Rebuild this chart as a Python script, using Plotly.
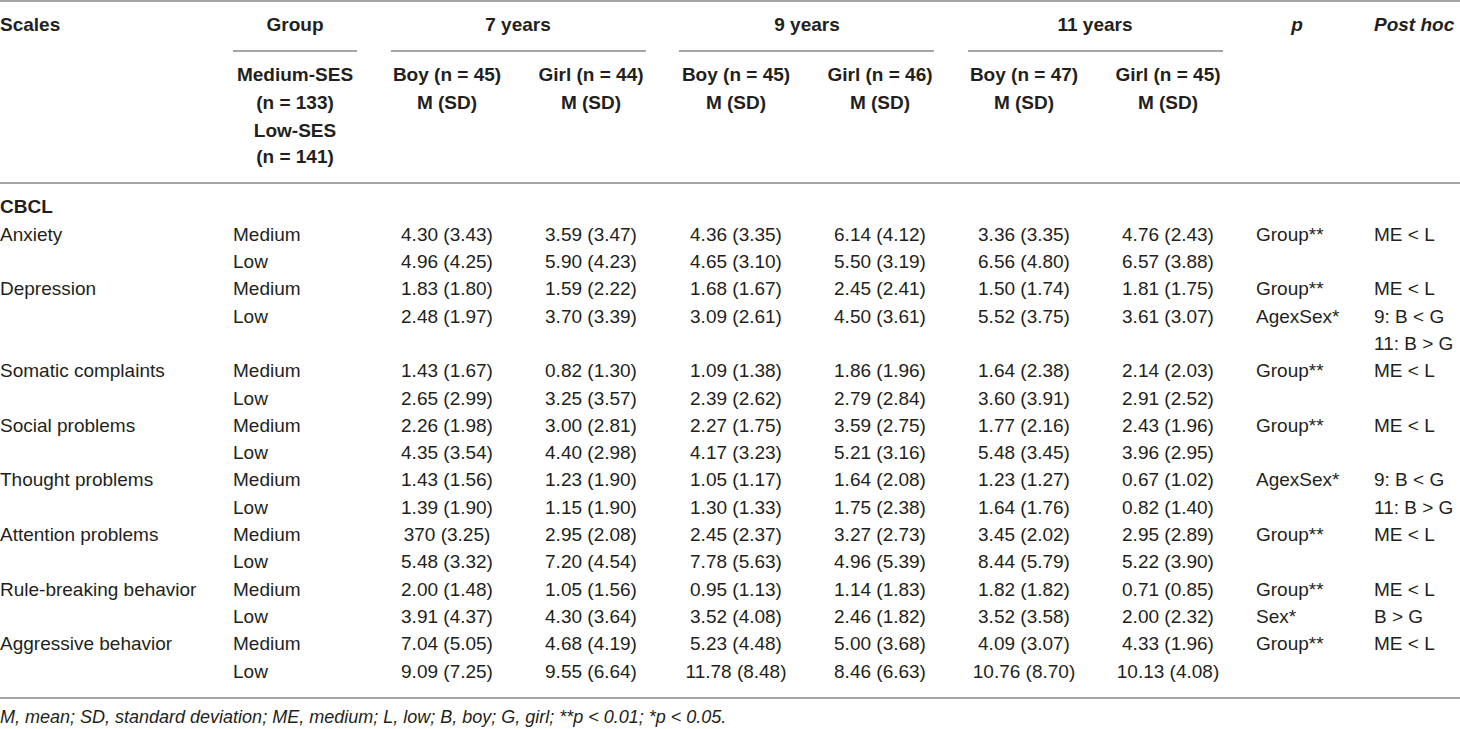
import plotly.graph_objects as go

# ---------------- data ----------------
scales = ["Anxiety", "", "Depression", "", "", "Somatic complaints", "", "Social problems", "",
          "Thought problems", "", "Attention problems", "", "Rule-breaking behavior", "",
          "Aggressive behavior", ""]
groups = ["Medium", "Low", "Medium", "Low", "", "Medium", "Low", "Medium", "Low",
          "Medium", "Low", "Medium", "Low", "Medium", "Low", "Medium", "Low"]
boy7 = ["4.30 (3.43)", "4.96 (4.25)", "1.83 (1.80)", "2.48 (1.97)", "", "1.43 (1.67)", "2.65 (2.99)",
        "2.26 (1.98)", "4.35 (3.54)", "1.43 (1.56)", "1.39 (1.90)", "370 (3.25)", "5.48 (3.32)",
        "2.00 (1.48)", "3.91 (4.37)", "7.04 (5.05)", "9.09 (7.25)"]
girl7 = ["3.59 (3.47)", "5.90 (4.23)", "1.59 (2.22)", "3.70 (3.39)", "", "0.82 (1.30)", "3.25 (3.57)",
         "3.00 (2.81)", "4.40 (2.98)", "1.23 (1.90)", "1.15 (1.90)", "2.95 (2.08)", "7.20 (4.54)",
         "1.05 (1.56)", "4.30 (3.64)", "4.68 (4.19)", "9.55 (6.64)"]
boy9 = ["4.36 (3.35)", "4.65 (3.10)", "1.68 (1.67)", "3.09 (2.61)", "", "1.09 (1.38)", "2.39 (2.62)",
        "2.27 (1.75)", "4.17 (3.23)", "1.05 (1.17)", "1.30 (1.33)", "2.45 (2.37)", "7.78 (5.63)",
        "0.95 (1.13)", "3.52 (4.08)", "5.23 (4.48)", "11.78 (8.48)"]
girl9 = ["6.14 (4.12)", "5.50 (3.19)", "2.45 (2.41)", "4.50 (3.61)", "", "1.86 (1.96)", "2.79 (2.84)",
         "3.59 (2.75)", "5.21 (3.16)", "1.64 (2.08)", "1.75 (2.38)", "3.27 (2.73)", "4.96 (5.39)",
         "1.14 (1.83)", "2.46 (1.82)", "5.00 (3.68)", "8.46 (6.63)"]
boy11 = ["3.36 (3.35)", "6.56 (4.80)", "1.50 (1.74)", "5.52 (3.75)", "", "1.64 (2.38)", "3.60 (3.91)",
         "1.77 (2.16)", "5.48 (3.45)", "1.23 (1.27)", "1.64 (1.76)", "3.45 (2.02)", "8.44 (5.79)",
         "1.82 (1.82)", "3.52 (3.58)", "4.09 (3.07)", "10.76 (8.70)"]
girl11 = ["4.76 (2.43)", "6.57 (3.88)", "1.81 (1.75)", "3.61 (3.07)", "", "2.14 (2.03)", "2.91 (2.52)",
          "2.43 (1.96)", "3.96 (2.95)", "0.67 (1.02)", "0.82 (1.40)", "2.95 (2.89)", "5.22 (3.90)",
          "0.71 (0.85)", "2.00 (2.32)", "4.33 (1.96)", "10.13 (4.08)"]
p_effects = ["Group**", "", "Group**", "AgexSex*", "", "Group**", "", "Group**", "",
             "AgexSex*", "", "Group**", "", "Group**", "Sex*", "Group**", ""]
posthoc = ["ME < L", "", "ME < L", "9: B < G", "11: B > G", "ME < L", "", "ME < L", "",
           "9: B < G", "11: B > G", "ME < L", "", "ME < L", "B > G", "ME < L", ""]

age_headers = ["7 years", "9 years", "11 years"]
sub_headers = ["Boy (n = 45)", "Girl (n = 44)", "Boy (n = 45)", "Girl (n = 46)", "Boy (n = 47)", "Girl (n = 45)"]
group_header = ["Medium-SES", "(n = 133)", "Low-SES", "(n = 141)"]
section = "CBCL"
footnote = "M, mean; SD, standard deviation; ME, medium; L, low; B, boy; G, girl; **p < 0.01; *p < 0.05."

# ---------------- layout constants ----------------
W, H = 1460, 729
FONT = "Liberation Sans, Arial, Helvetica, sans-serif"
TXT = "#231f20"
LINE = "#a6a6a6"
FS = 19

row_y0, row_step = 236, 27.3
rows_y = [row_y0 + i * row_step for i in range(len(groups))]
data_cols = [boy7, girl7, boy9, girl9, boy11, girl11]
data_x = [447, 591, 736, 880, 1024, 1168]
age_x = [518, 807, 1095]
age_spans = [(391, 646), (679, 934), (968, 1223)]
group_x = 295
group_left = 233
p_left, p_head_x = 1256, 1297
post_left = 1374

fig = go.Figure()


def add_text(xs, ys, texts, pos="middle center", size=FS):
    fig.add_trace(go.Scatter(
        x=xs, y=ys, text=texts, mode="text", textposition=pos,
        textfont=dict(family=FONT, size=size, color=TXT),
        hoverinfo="skip", showlegend=False, cliponaxis=False))


# header row 1
add_text([0], [26], ["<b>Scales</b>"], "middle right")
add_text([group_x], [26], ["<b>Group</b>"])
add_text(age_x, [26] * 3, ["<b>%s</b>" % a for a in age_headers])
add_text([p_head_x], [26], ["<b><i>p</i></b>"])
add_text([post_left], [26], ["<b><i>Post hoc</i></b>"], "middle right")

# header row 2
add_text(data_x, [76] * 6, ["<b>%s</b>" % s for s in sub_headers])
add_text(data_x, [104] * 6, ["<b>M (SD)</b>"] * 6)
add_text([group_x] * 4, [76, 104, 132, 158], ["<b>%s</b>" % g for g in group_header])

# section
add_text([0], [208], ["<b>%s</b>" % section], "middle right")

# body
add_text([0] * len(scales), rows_y, scales, "middle right")
add_text([group_left] * len(groups), rows_y, groups, "middle right")
for xs, col in zip(data_x, data_cols):
    add_text([xs] * len(col), rows_y, col)
add_text([p_left] * len(p_effects), rows_y, p_effects, "middle right")
add_text([post_left] * len(posthoc), rows_y, posthoc, "middle right")

# footnote
add_text([0], [718], ["<i>%s</i>" % footnote], "middle right", size=18)

# rules
shapes = []
for yy in (1, 183, 698):
    shapes.append(dict(type="line", xref="x", yref="y", x0=0, x1=W, y0=yy, y1=yy,
                       line=dict(color=LINE, width=2)))
for a, b in [(group_left, 357)] + age_spans:
    shapes.append(dict(type="line", xref="x", yref="y", x0=a, x1=b, y0=51, y1=51,
                       line=dict(color=LINE, width=2)))

fig.update_layout(
    width=W, height=H, margin=dict(l=0, r=0, t=0, b=0),
    paper_bgcolor="white", plot_bgcolor="white", shapes=shapes,
    xaxis=dict(range=[0, W], visible=False, fixedrange=True),
    yaxis=dict(range=[H, 0], visible=False, fixedrange=True),
)

fig.write_html(
    "out.html",
    config={"displayModeBar": False},
    post_script="document.body.style.margin='0';document.body.style.overflow='hidden';",
)
